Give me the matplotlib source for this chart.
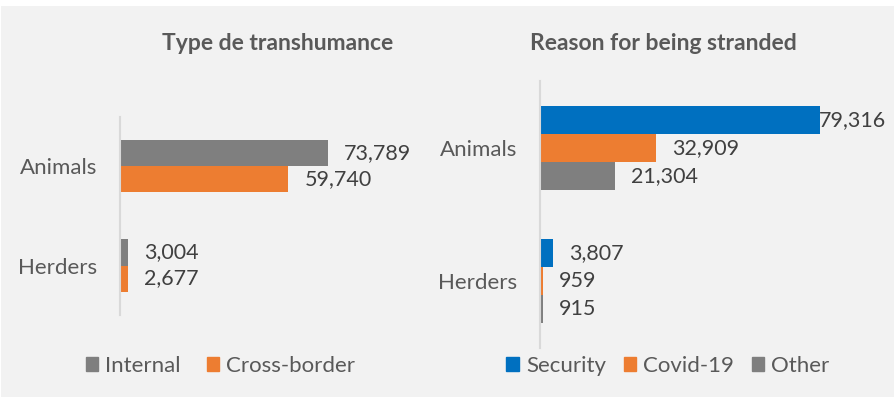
import matplotlib
matplotlib.use("Agg")
import matplotlib.pyplot as plt
from matplotlib.patches import Patch, Rectangle

# ---- data ----
categories = ["Animals", "Herders"]
left_title = "Type de transhumance"
left_series = ["Internal", "Cross-border"]
internal = [73789, 3004]
cross_border = [59740, 2677]

right_title = "Reason for being stranded"
right_series = ["Security", "Covid-19", "Other"]
security = [79316, 3807]
covid = [32909, 959]
other = [21304, 915]

# ---- style ----
GRAY = "#7f7f7f"
ORANGE = "#ed7d31"
BLUE = "#0070c0"
BG = "#f2f2f2"
TXT = "#595959"
VAL = "#404040"
AXC = "#d9d9d9"

plt.rcParams['font.family'] = ['Lato', 'DejaVu Sans']

W, H = 895, 397
fig = plt.figure(figsize=(W / 100, H / 100), dpi=100, facecolor='white')
fig.patches.append(Rectangle((1 / W, 0), 1 - 1 / W, 1 - 6 / H, transform=fig.transFigure,
                             facecolor=BG, edgecolor='none', zorder=-10))


def px_axes(x0, y0, x1, y1):
    return fig.add_axes([x0 / W, 1 - y1 / H, (x1 - x0) / W, (y1 - y0) / H])


def panel(ax, series_vals, series_names, colors, h):
    n = len(series_vals)
    offsets = [(i - (n - 1) / 2) * h for i in range(n)]
    labels = []
    for vals, name, c, off in zip(series_vals, series_names, colors, offsets):
        ypos = [i + off for i in range(len(categories))]
        bars = ax.barh(ypos, vals, height=h, color=c, label=name)
        for b, v in zip(bars, vals):
            t = ax.annotate(f"{v:,}", xy=(b.get_width(), b.get_y() + b.get_height() / 2),
                            xytext=(11.5, 0), textcoords='offset points',
                            va='center', ha='left', fontsize=15.5, color=VAL)
            labels.append(t)
    ax.set_xlim(0, 100000)
    ax.set_ylim(len(categories) - 0.5, -0.5)
    ax.set_yticks(range(len(categories)), categories)
    ax.tick_params(axis='y', length=0, pad=16.5, labelsize=16, labelcolor=TXT)
    ax.set_xticks([])
    for s in ['top', 'right', 'bottom']:
        ax.spines[s].set_visible(False)
    ax.spines['left'].set_color(AXC)
    ax.spines['left'].set_linewidth(1.5)
    ax.patch.set_visible(False)
    return labels


axL = px_axes(120, 117, 402, 315)
axR = px_axes(540, 81, 893, 348)

labs = panel(axL, [internal, cross_border], left_series, [GRAY, ORANGE], 26 / 99)
labs += panel(axR, [security, covid, other], right_series, [BLUE, ORANGE, GRAY], 28 / 133.5)

fig.text(278 / W, 1 - 50 / H, left_title, ha='center', va='baseline',
         fontsize=16.5, fontweight='bold', color=TXT)
fig.text(663 / W, 1 - 50 / H, right_title, ha='center', va='baseline',
         fontsize=16.5, fontweight='bold', color=TXT)

leg_kw = dict(loc='center', bbox_transform=fig.transFigure, frameon=False,
              handlelength=0.55, handleheight=0.55, handletextpad=0.33,
              fontsize=16, labelcolor=TXT, borderpad=0)
axL.legend(handles=[Patch(color=c, label=l) for c, l in zip([GRAY, ORANGE], left_series)],
           bbox_to_anchor=(220.5 / W, 1 - 366 / H), ncol=2, columnspacing=1.15, **leg_kw)
axR.legend(handles=[Patch(color=c, label=l) for c, l in zip([BLUE, ORANGE, GRAY], right_series)],
           bbox_to_anchor=(668 / W, 1 - 366 / H), ncol=3, columnspacing=0.8, **leg_kw)

# keep value labels inside the chart area
fig.canvas.draw()
r = fig.canvas.get_renderer()
for t in labs:
    bb = t.get_window_extent(r)
    if bb.x1 > 886:
        dx = (886 - bb.x1) * 72 / 100
        t.xyann = (t.xyann[0] + dx, t.xyann[1])

fig.savefig("out.png", dpi=100, facecolor=fig.get_facecolor())
